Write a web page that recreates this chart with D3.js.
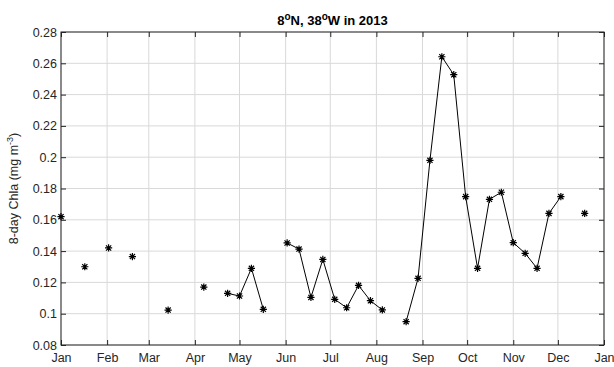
<!DOCTYPE html>
<html>
<head>
<meta charset="utf-8">
<script src="https://cdn.jsdelivr.net/npm/d3@7"></script>
<style>
  body { margin: 0; background: #fff; }
  text { font-family: "Liberation Sans", Arial, sans-serif; }
</style>
</head>
<body>
<script>
// 8-day composites, day offset from Jan 1 2013 (null = no data)
const dayOffsets = [0, 8, 16, 24, 32, 40, 48, 56, 64, 72, 80, 88, 96, 104, 112, 120, 128, 136, 144,
  152, 160, 168, 176, 184, 192, 200, 208, 216, 224, 232, 240, 248, 256, 264, 272, 280, 288, 296,
  304, 312, 320, 328, 336, 344, 352, 360];
const chla = [0.162, null, 0.130, null, 0.142, null, 0.1365, null, null, 0.1023, null, null, 0.117, null,
  0.113, 0.1113, 0.129, 0.1028, null, 0.1452, 0.1413, 0.1104, 0.1347, 0.1092, 0.1038, 0.1181, 0.1083,
  0.1024, null, 0.0949, 0.1226, 0.198, 0.2642, 0.2527, 0.1748, 0.129, 0.1731, 0.1776, 0.1454, 0.1386,
  0.129, 0.1641, 0.1748, null, 0.1641, null];
const yTicks = [0.08, 0.1, 0.12, 0.14, 0.16, 0.18, 0.2, 0.22, 0.24, 0.26, 0.28];
const monthLabels = ["Jan", "Feb", "Mar", "Apr", "May", "Jun", "Jul", "Aug", "Sep", "Oct", "Nov", "Dec", "Jan"];

const W = 614, H = 367;
const m = { left: 61, right: 10, top: 32, bottom: 22 };

const svg = d3.select("body").append("svg").attr("width", W).attr("height", H);

const x = d3.scaleUtc()
  .domain([new Date(Date.UTC(2013, 0, 1)), new Date(Date.UTC(2014, 0, 1))])
  .range([m.left, W - m.right]);
const y = d3.scaleLinear().domain([0.08, 0.28]).range([H - m.bottom, m.top]);

const monthTicks = monthLabels.map((d, i) => new Date(Date.UTC(2013, i, 1)));
const day = d => new Date(Date.UTC(2013, 0, 1 + d));

const data = dayOffsets.map((d, i) => ({ date: day(d), v: chla[i] }));

// grid
const grid = svg.append("g").attr("stroke", "#d9d9d9").attr("stroke-width", 1);
grid.selectAll(".gx").data(monthTicks).join("line")
  .attr("x1", d => x(d)).attr("x2", d => x(d))
  .attr("y1", m.top).attr("y2", H - m.bottom);
grid.selectAll(".gy").data(yTicks).join("line")
  .attr("x1", m.left).attr("x2", W - m.right)
  .attr("y1", d => y(d)).attr("y2", d => y(d));

// axes (MATLAB style ticks inside)
const tickCol = "#262626";
const xAxis = d3.axisBottom(x).tickValues(monthTicks).tickSizeInner(-5).tickSizeOuter(0)
  .tickFormat((d, i) => monthLabels[i]);
const gx = svg.append("g").attr("transform", `translate(0,${H - m.bottom})`).call(xAxis);
gx.selectAll("text").attr("dy", "1.05em").attr("y", 4);
const gxt = svg.append("g").attr("transform", `translate(0,${m.top})`)
  .call(d3.axisTop(x).tickValues(monthTicks).tickSizeInner(-5).tickSizeOuter(0).tickFormat(""));

const yAxis = d3.axisLeft(y).tickValues(yTicks).tickSizeInner(-5).tickSizeOuter(0)
  .tickFormat(d => d3.format("")(+d.toFixed(2)));
const gy = svg.append("g").attr("transform", `translate(${m.left},0)`).call(yAxis);
gy.selectAll("text").attr("x", -4);
const gyr = svg.append("g").attr("transform", `translate(${W - m.right},0)`)
  .call(d3.axisRight(y).tickValues(yTicks).tickSizeInner(-5).tickSizeOuter(0).tickFormat(""));

[gx, gxt, gy, gyr].forEach(g => {
  g.select(".domain").remove();
  g.selectAll("line").attr("stroke", tickCol);
  g.selectAll("text").attr("fill", tickCol).attr("font-size", 12.5)
    .style("font-family", '"Liberation Sans", Arial, sans-serif');
});

// box
svg.append("rect").attr("x", m.left).attr("y", m.top)
  .attr("width", W - m.right - m.left).attr("height", H - m.bottom - m.top)
  .attr("fill", "none").attr("stroke", tickCol).attr("stroke-width", 1);

// line with gaps
const line = d3.line().defined(d => d.v !== null).x(d => x(d.date)).y(d => y(d.v));
svg.append("path").datum(data).attr("d", line)
  .attr("fill", "none").attr("stroke", "#000").attr("stroke-width", 1);

// asterisk markers
const r = 3.6;
const star = `M${-r},0H${r}M0,${-r}V${r}M${-r * 0.72},${-r * 0.72}L${r * 0.72},${r * 0.72}M${-r * 0.72},${r * 0.72}L${r * 0.72},${-r * 0.72}`;
svg.append("g").selectAll("path").data(data.filter(d => d.v !== null)).join("path")
  .attr("transform", d => `translate(${x(d.date)},${y(d.v)})`)
  .attr("d", star).attr("stroke", "#000").attr("stroke-width", 1.2).attr("fill", "none");

// title
const t = svg.append("text").attr("x", (m.left + W - m.right) / 2).attr("y", 25)
  .attr("text-anchor", "middle").attr("font-size", 13).attr("font-weight", "bold").attr("fill", "#000");
t.append("tspan").text("8");
t.append("tspan").attr("dy", -5).attr("font-size", 10).text("o");
t.append("tspan").attr("dy", 5).text("N, 38");
t.append("tspan").attr("dy", -5).attr("font-size", 10).text("o");
t.append("tspan").attr("dy", 5).text("W in 2013");

// y label
const yl = svg.append("text").attr("transform", `translate(18,${(m.top + H - m.bottom) / 2}) rotate(-90)`)
  .attr("text-anchor", "middle").attr("font-size", 12.5).attr("fill", tickCol);
yl.append("tspan").text("8-day Chla (mg m");
yl.append("tspan").attr("dy", -5).attr("font-size", 9).text("-3");
yl.append("tspan").attr("dy", 5).text(")");
</script>
</body>
</html>
